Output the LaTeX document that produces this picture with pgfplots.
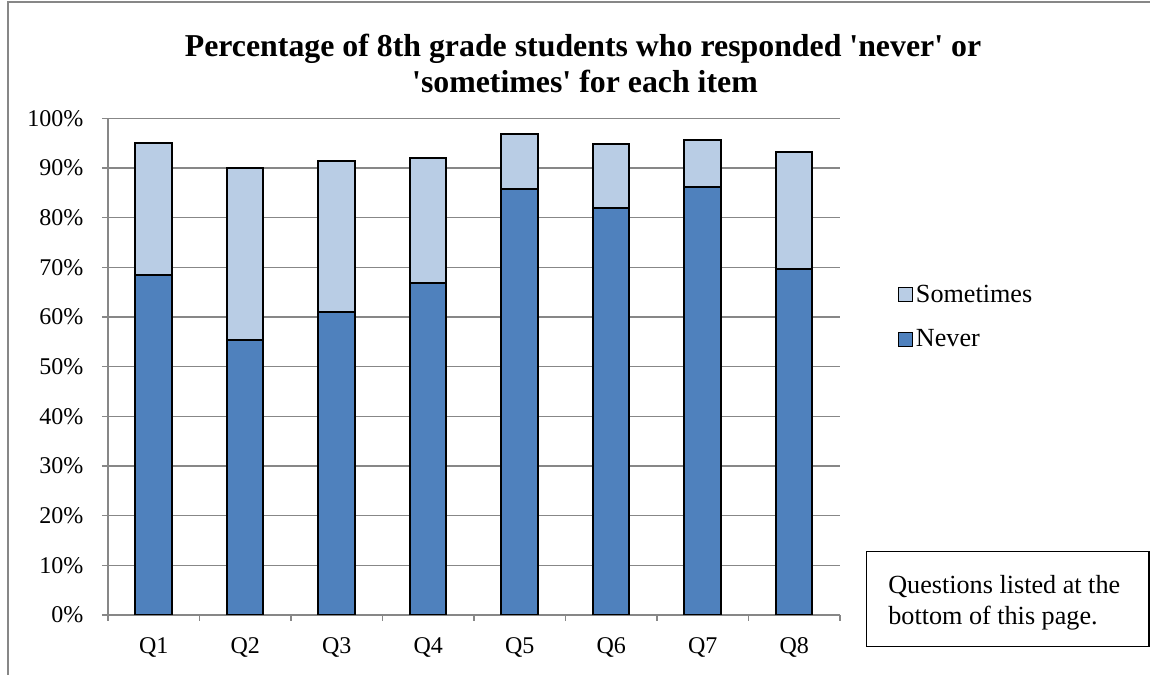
\documentclass[border=0pt]{standalone}
\usepackage{fontspec}
\setmainfont{Liberation Serif}
\usepackage{pgfplots}
\pgfplotsset{compat=1.18}
\definecolor{neverblue}{HTML}{4F81BD}
\definecolor{sometimesblue}{HTML}{B9CDE5}
\definecolor{gridgray}{HTML}{878787}

\begin{document}
\begin{tikzpicture}[x=0.6pt,y=-0.6pt]
\useasboundingbox (0,0) rectangle (1150,675);
% chart area frame
\draw[gridgray, line width=1.2pt] (7.5,675) -- (7.5,2) -- (1150,2);

\begin{axis}[
  at={(64.8pt,-369pt)}, anchor=south west,
  scale only axis, width=439.2pt, height=298pt,
  xmin=-0.5, xmax=7.5, ymin=0, ymax=100,
  ybar stacked, bar width=21.9pt,
  axis lines*=left,
  axis line style={-, gridgray, line width=0.9pt},
  ymajorgrids, grid style={gridgray, line width=0.9pt},
  tick align=outside, major tick length=3.6pt,
  ytick={0,10,...,100},
  yticklabels={0\%,10\%,20\%,30\%,40\%,50\%,60\%,70\%,80\%,90\%,100\%},
  ytick style={gridgray, line width=0.9pt},
  xtick={0,...,7},
  xticklabels={Q1,Q2,Q3,Q4,Q5,Q6,Q7,Q8},
  xtick style={draw=none},
  extra x ticks={-0.5,0.5,...,7.5},
  extra x tick labels={},
  extra x tick style={grid=none, xtick style={draw=gridgray, line width=0.9pt}},
  tick label style={font=\fontsize{14.4}{17}\selectfont},
  yticklabel style={inner sep=0pt, xshift=-11pt},
  xticklabel style={inner sep=0pt, yshift=-10pt},
  legend style={at={(rel axis cs:1.079,0.600)}, anchor=west, draw=none, fill=none,
    inner sep=0pt, row sep=12pt, font=\fontsize{15.7}{18}\selectfont,
    nodes={inner sep=1.5pt}},
  legend cell align=left,
  reverse legend,
  legend image code/.code={\draw[#1, draw=black, line width=0.8pt] (0pt,-4.2pt) rectangle (8.4pt,4.2pt);},
]
\addplot[fill=neverblue, draw=black, line width=1.2pt]
  coordinates {(0,68.4) (1,55.3) (2,61.0) (3,66.9) (4,85.7) (5,81.9) (6,86.2) (7,69.6)};
\addplot[fill=sometimesblue, draw=black, line width=1.2pt]
  coordinates {(0,26.7) (1,34.7) (2,30.5) (3,25.1) (4,11.2) (5,12.9) (6,9.4) (7,23.6)};
\legend{Never,Sometimes}
\end{axis}

% title
\node[anchor=base, font=\fontsize{19.1}{22}\selectfont\bfseries] at (583,56.7)
  {Percentage of 8th grade students who responded \textquotesingle never\textquotesingle\ or};
\node[anchor=base, font=\fontsize{19.1}{22}\selectfont\bfseries] at (585,93)
  {\textquotesingle sometimes\textquotesingle\ for each item};

% note box
\draw[black, line width=0.9pt] (866.7,551.7) rectangle (1149,646.7);
\node[anchor=base west, inner sep=0pt, font=\fontsize{15.7}{18}\selectfont] at (888,593) {Questions listed at the};
\node[anchor=base west, inner sep=0pt, font=\fontsize{15.7}{18}\selectfont] at (888,624) {bottom of this page.};
\end{tikzpicture}
\end{document}
